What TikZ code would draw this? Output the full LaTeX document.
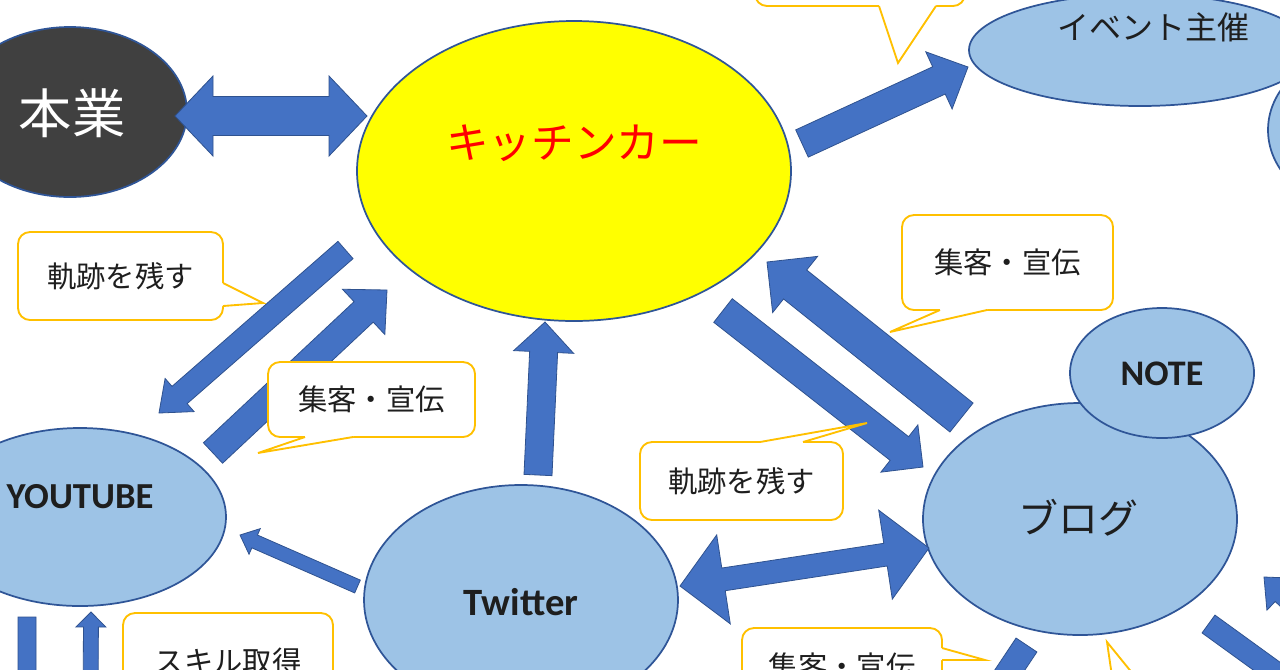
\documentclass[tikz,border=0pt]{standalone}
\usepackage{fontspec}
\newfontfamily\jp{Noto Sans CJK JP}
\newfontfamily\lat{Carlito}
\usetikzlibrary{shapes.geometric,calc}
\definecolor{arrfill}{HTML}{4472C4}
\definecolor{arrdraw}{HTML}{2F528F}
\definecolor{lb}{HTML}{9DC3E6}
\definecolor{eb}{HTML}{2F5597}
\definecolor{gold}{HTML}{FFC000}
\definecolor{dk}{HTML}{404040}
\definecolor{ylw}{HTML}{FFFF00}
\definecolor{txt}{HTML}{1E1E1E}
\tikzset{
 arr/.style={fill=arrfill, draw=arrdraw, line width=0.6pt, line join=miter},
 ell/.style={ellipse, draw=eb, line width=1.3pt, fill=lb, inner sep=0pt},
 cbox/.style={draw=gold, line width=1.4pt, fill=white, rounded corners=9pt, inner sep=0pt, font=\jp\fontsize{22pt}{26pt}\selectfont, text=txt},
 cline/.style={draw=gold, line width=1.4pt, line join=miter},
 jtext/.style={font=\jp, text=txt, inner sep=0pt},
 ltext/.style={font=\lat, text=txt, inner sep=0pt}
}
% single block arrow: from, to, shaft half-width, head half-width, head length
\newcommand\barrow[5]{%
  \coordinate (hb) at ($(#2)!#5!(#1)$);
  \filldraw[arr] ($(#1)!#3!90:(#2)$) -- ($(hb)!#3!-90:(#1)$) -- ($(hb)!#4!-90:(#1)$) -- (#2) -- ($(hb)!#4!90:(#1)$) -- ($(hb)!#3!90:(#1)$) -- ($(#1)!#3!-90:(#2)$) -- cycle;}
% double block arrow
\newcommand\dbarrow[5]{%
  \coordinate (hb) at ($(#2)!#5!(#1)$);
  \coordinate (ha) at ($(#1)!#5!(#2)$);
  \filldraw[arr] (#1) -- ($(ha)!#4!90:(#2)$) -- ($(ha)!#3!90:(#2)$) -- ($(hb)!#3!-90:(#1)$) -- ($(hb)!#4!-90:(#1)$) -- (#2) -- ($(hb)!#4!90:(#1)$) -- ($(hb)!#3!90:(#1)$) -- ($(ha)!#3!-90:(#2)$) -- ($(ha)!#4!-90:(#2)$) -- cycle;}
% callout tail: base1, tip, base2, inward offset
\newcommand\ctail[4]{%
  \fill[white] ($(#1)+#4$) -- (#1) -- (#2) -- (#3) -- ($(#3)+#4$) -- cycle;
  \draw[cline] (#1) -- (#2) -- (#3);}
\begin{document}
\begin{tikzpicture}[x=0.75pt,y=-0.75pt]
\useasboundingbox (0,0) rectangle (1280,669);
\clip (0,0) rectangle (1280,669);
\fill[white] (0,0) rectangle (1280,669);

% ellipses
\node[ell, fill=dk, minimum width=175.5pt, minimum height=127.5pt] (hongyo) at (70,112) {};
\node[ell, fill=ylw, minimum width=325.5pt, minimum height=225pt] (kc) at (574,171) {};
\node[ell, minimum width=256.5pt, minimum height=84pt] (event) at (1140,50) {};
\node[ell, minimum width=144pt, minimum height=120pt] (rightell) at (1364,130) {};
\node[ell, minimum width=219pt, minimum height=133.5pt] (yt) at (80,517) {};
\node[ell, minimum width=235.5pt, minimum height=172.5pt] (tw) at (521,600) {};
\node[ell, minimum width=235.5pt, minimum height=174pt] (blog) at (1080,519) {};
\node[ell, minimum width=138pt, minimum height=97.5pt] (note) at (1162,373) {};

% arrow end points
\coordinate (a1s) at (175,116);   \coordinate (a1e) at (367,116);
\coordinate (a2s) at (802,143.5); \coordinate (a2e) at (968,67);
\coordinate (a3s) at (345.5,250); \coordinate (a3e) at (159,413);
\coordinate (a4s) at (213,453);   \coordinate (a4e) at (387,290);
\coordinate (a5s) at (538,475);   \coordinate (a5e) at (545,322);
\coordinate (a6s) at (357.5,586.5); \coordinate (a6e) at (240,535);
\coordinate (a7s) at (723,310.5); \coordinate (a7e) at (923,467);
\coordinate (a8s) at (961.5,417.5); \coordinate (a8e) at (767,262);
\coordinate (a9s) at (680,586);   \coordinate (a9e) at (929,548);
\coordinate (a10s) at (27,617);   \coordinate (a10e) at (27,720);
\coordinate (a11s) at (90.5,720); \coordinate (a11e) at (91,612);
\coordinate (a12s) at (1026.5,645); \coordinate (a12e) at (963,740);
\coordinate (a13s) at (1208.5,624); \coordinate (a13e) at (1330,712);
\coordinate (a14s) at (1372,680); \coordinate (a14e) at (1264,577);

\dbarrow{a1s}{a1e}{14.6pt}{30pt}{28.5pt}
\barrow{a2s}{a2e}{11.25pt}{23.6pt}{24pt}
\barrow{a3s}{a3e}{8.6pt}{16.5pt}{20.5pt}
\barrow{a4s}{a4e}{10.5pt}{23.25pt}{24pt}
\barrow{a5s}{a5e}{10.5pt}{22.5pt}{22.5pt}
\barrow{a6s}{a6e}{5.25pt}{10.5pt}{12pt}
\barrow{a7s}{a7e}{11.25pt}{22.5pt}{22.5pt}
\barrow{a8s}{a8e}{13.9pt}{27pt}{27pt}
\dbarrow{a9s}{a9e}{8.6pt}{33.75pt}{33pt}
\barrow{a10s}{a10e}{6.75pt}{13.5pt}{13.5pt}
\barrow{a11s}{a11e}{5.6pt}{11.25pt}{11.25pt}
\barrow{a12s}{a12e}{9.4pt}{18.75pt}{18.75pt}
\barrow{a13s}{a13e}{8.25pt}{16.5pt}{16.5pt}
\barrow{a14s}{a14e}{7.5pt}{16.5pt}{18.75pt}

% callouts
\node[cbox, minimum width=157.5pt, minimum height=64.5pt] (ctop) at (860,-37) {};
\coordinate (t1a) at (879,6); \coordinate (t1t) at (898,63); \coordinate (t1b) at (936,6);
\ctail{t1a}{t1t}{t1b}{(0,-3)}

\node[cbox, minimum width=153.75pt, minimum height=66pt] (ckiseki1) at (120.5,276) {軌跡を残す};
\coordinate (t2a) at (223,283); \coordinate (t2t) at (263,303); \coordinate (t2b) at (223,306);
\ctail{t2a}{t2t}{t2b}{(-3,0)}

\node[cbox, minimum width=155.25pt, minimum height=56.25pt] (cshu1) at (371.5,399.5) {集客・宣伝};
\coordinate (t3a) at (305,437); \coordinate (t3t) at (258,453); \coordinate (t3b) at (353,437);
\ctail{t3a}{t3t}{t3b}{(0,-3)}

\node[cbox, minimum width=158.25pt, minimum height=71.25pt] (cshu2) at (1007.5,262.5) {集客・宣伝};
\coordinate (t4a) at (940,310); \coordinate (t4t) at (890,332); \coordinate (t4b) at (987,310);
\ctail{t4a}{t4t}{t4b}{(0,-3)}

\node[cbox, minimum width=152.25pt, minimum height=58.5pt] (ckiseki2) at (741.5,481) {軌跡を残す};
\coordinate (t5a) at (760,442); \coordinate (t5t) at (867,423); \coordinate (t5b) at (803,442);
\ctail{t5a}{t5t}{t5b}{(0,3)}

\node[cbox, minimum width=157.5pt, minimum height=72.75pt] (cskill) at (228,661.5) {スキル取得};

\node[cbox, minimum width=150pt, minimum height=57pt] (cshu3) at (842,666) {集客・宣伝};
\coordinate (t7a) at (942,648); \coordinate (t7t) at (985,660); \coordinate (t7b) at (942,660);
\ctail{t7a}{t7t}{t7b}{(-3,0)}

\coordinate (t8t) at (1107,642); \coordinate (t8a) at (1114,690); \coordinate (t8b) at (1146,690);
\draw[cline] (t8a) -- (t8t) -- (t8b);

% texts
\node[jtext, text=white, font=\jp\fontsize{40pt}{44pt}\selectfont] (thongyo) at (72,113) {本業};
\node[jtext, text=red, font=\jp\fontsize{32pt}{36pt}\selectfont] (tkc) at (574,143) {キッチンカー};
\node[jtext, font=\jp\fontsize{24pt}{28pt}\selectfont] (tevent) at (1153,27) {イベント主催};
\node[ltext, font=\lat\bfseries\fontsize{27.5pt}{30pt}\selectfont] (tyt) at (80,497) {YOUTUBE};
\node[ltext, font=\lat\bfseries\fontsize{29pt}{32pt}\selectfont] (ttw) at (521,602) {Twitter};
\node[jtext, font=\jp\fontsize{30pt}{34pt}\selectfont] (tblog) at (1078,518) {ブログ};
\node[ltext, font=\lat\bfseries\fontsize{27pt}{30pt}\selectfont] (tnote) at (1162,374) {NOTE};
\end{tikzpicture}
\end{document}
